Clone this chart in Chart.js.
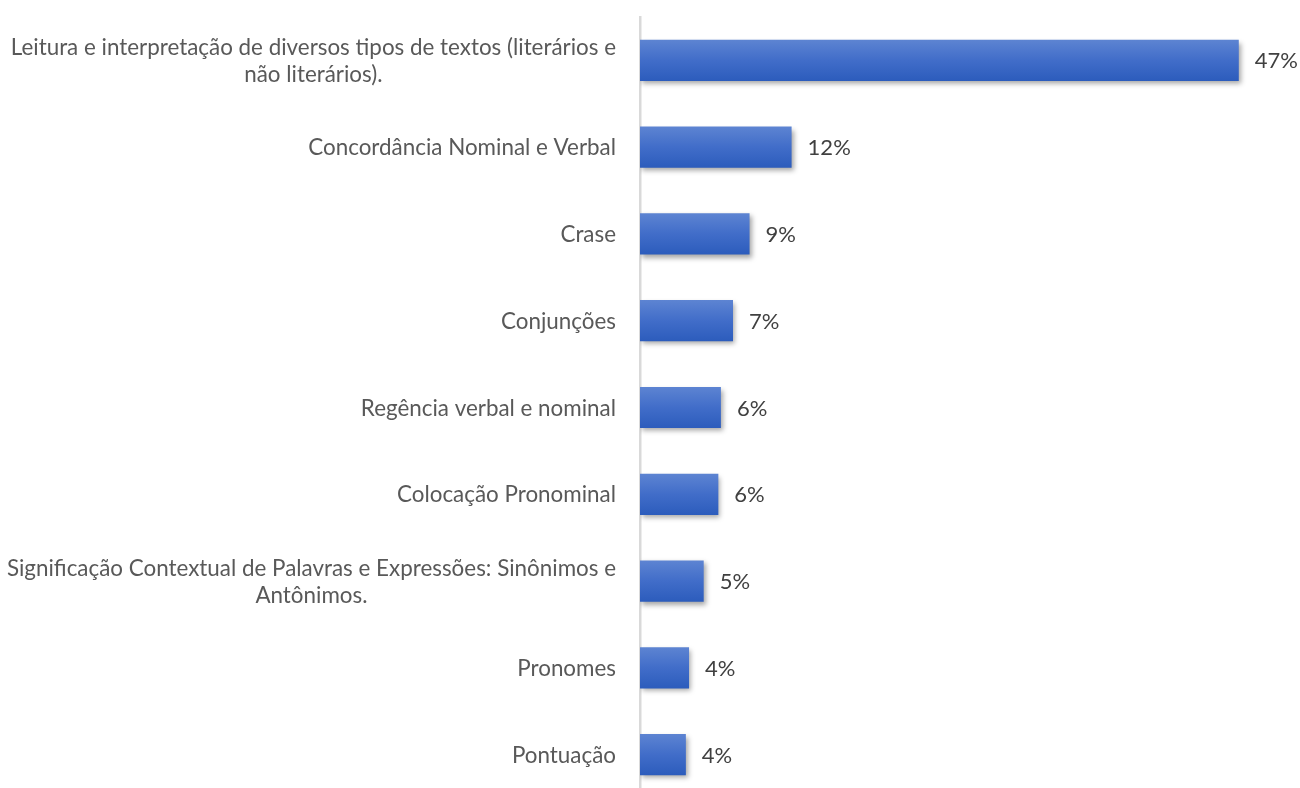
<!DOCTYPE html>
<html>
<head>
<meta charset="utf-8">
<script src="https://cdn.jsdelivr.net/npm/chart.js@4"></script>
<style>
html,body{margin:0;padding:0;background:#fff;overflow:hidden;}
#wrap{width:1300px;height:800px;}
</style>
</head>
<body>
<div id="wrap"><canvas id="c" width="1300" height="800"></canvas></div>
<script>
const categories = [
  ["Leitura e interpretação de diversos tipos de textos (literários e", "não literários)."],
  ["Concordância Nominal e Verbal"],
  ["Crase"],
  ["Conjunções"],
  ["Regência verbal e nominal"],
  ["Colocação Pronominal"],
  ["Significação Contextual de Palavras e Expressões: Sinônimos e", "Antônimos."],
  ["Pronomes"],
  ["Pontuação"]
];
const values = [47, 11.9, 8.6, 7.3, 6.35, 6.15, 5.0, 3.85, 3.6];
const valueLabels = ["47%", "12%", "9%", "7%", "6%", "6%", "5%", "4%", "4%"];

const FONT = "Lato, 'Open Sans', sans-serif";
const LABEL_SIZE = 22.4;
const VALUE_SIZE = 22;
const BAR_PCT = 0.475;

const customPlugin = {
  id: 'custom',
  beforeDatasetsDraw(chart) {
    const ctx = chart.ctx;
    ctx.save();
    ctx.shadowColor = 'rgba(0,0,0,0.35)';
    ctx.shadowBlur = 5;
    ctx.shadowOffsetX = 2;
    ctx.shadowOffsetY = 3;
  },
  afterDatasetsDraw(chart) {
    const ctx = chart.ctx;
    ctx.restore();
    const meta = chart.getDatasetMeta(0);
    const yScale = chart.scales.y;
    ctx.save();
    ctx.textBaseline = 'middle';
    ctx.font = VALUE_SIZE + "px " + FONT;
    ctx.fillStyle = '#404040';
    ctx.textAlign = 'left';
    meta.data.forEach((bar, i) => {
      ctx.fillText(valueLabels[i], bar.x + 16, bar.y + 1);
    });
    ctx.font = LABEL_SIZE + "px " + FONT;
    ctx.fillStyle = '#595959';
    const rightEdge = 616;
    const lineH = 27;
    categories.forEach((lines, i) => {
      const yc = yScale.getPixelForValue(i);
      const widest = Math.max(...lines.map(l => ctx.measureText(l).width));
      const cx = rightEdge - widest / 2;
      ctx.textAlign = 'center';
      lines.forEach((l, k) => {
        const y = yc + 1 + (k - (lines.length - 1) / 2) * lineH;
        ctx.fillText(l, cx, y);
      });
    });
    ctx.restore();
  }
};

const ctx = document.getElementById('c').getContext('2d');

new Chart(ctx, {
  type: 'bar',
  data: {
    labels: categories.map(c => c.join(' ')),
    datasets: [{
      data: values,
      backgroundColor: function(context) {
        const chart = context.chart;
        const yScale = chart.scales && chart.scales.y;
        const area = chart.chartArea;
        if (!yScale || !area || context.dataIndex === undefined) return '#416dc9';
        const yc = yScale.getPixelForValue(context.dataIndex);
        const h = (area.bottom - area.top) / categories.length * BAR_PCT;
        const g = chart.ctx.createLinearGradient(0, yc - h / 2, 0, yc + h / 2);
        g.addColorStop(0, '#5d84d2');
        g.addColorStop(0.5, '#416dc9');
        g.addColorStop(1, '#2c5cbc');
        return g;
      },
      borderWidth: 0,
      barPercentage: BAR_PCT,
      categoryPercentage: 1.0
    }]
  },
  options: {
    responsive: false,
    animation: false,
    devicePixelRatio: 1,
    indexAxis: 'y',
    layout: { padding: { top: 17, right: 23, bottom: 2, left: 0 } },
    plugins: { legend: { display: false }, tooltip: { enabled: false } },
    scales: {
      x: { display: false, min: 0, max: 50 },
      y: {
        display: true,
        ticks: { display: false },
        grid: { display: false },
        border: { display: true, color: '#d9d9d9', width: 2.5 },
        afterFit(scale) { scale.width = 640; }
      }
    }
  },
  plugins: [customPlugin]
});
</script>
</body>
</html>
